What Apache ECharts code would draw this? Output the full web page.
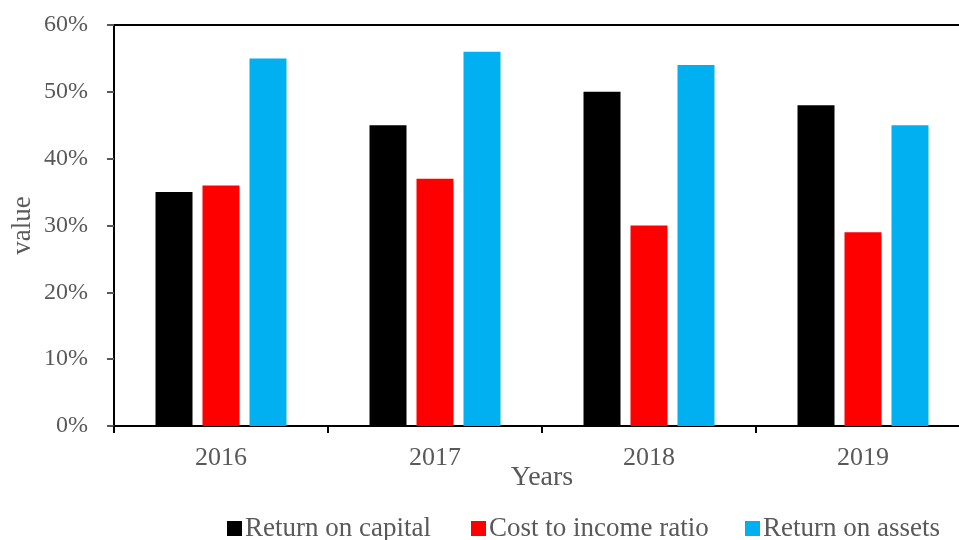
<!DOCTYPE html>
<html>
<head>
<meta charset="utf-8">
<script src="https://cdn.jsdelivr.net/npm/echarts@6/dist/echarts.min.js"></script>
<style>
  html, body { margin: 0; padding: 0; background: #fff; }
  #chart { width: 959px; height: 540px; }
</style>
</head>
<body>
<div id="chart"></div>
<script>
// Yearly ratios, in percent
const years = ['2016', '2017', '2018', '2019'];
const seriesNames = ['Return on capital', 'Cost to income ratio', 'Return on assets'];
const returnOnCapital = [35, 45, 50, 48];
const costToIncome = [36, 37, 30, 29];
const returnOnAssets = [55, 56, 54, 45];

const font = '"Liberation Serif", "Times New Roman", serif';
const labelGrey = '#595959';
const colors = ['#000000', '#ff0000', '#00b0f0'];
const legendLeft = [222, 466, 740];

// one legend entry per component so each can sit at its own spot
const legends = seriesNames.map((name, i) => ({
  left: legendLeft[i], top: 510,
  itemWidth: 15, itemHeight: 15, itemGap: 0,
  icon: 'rect',
  textStyle: { fontFamily: font, fontSize: 27, color: labelGrey, padding: [0, 0, 0, -2] },
  data: [name]
}));

const chart = echarts.init(document.getElementById('chart'));
chart.setOption({
  animation: false,
  textStyle: { fontFamily: font },
  grid: {
    left: 114, right: -11, top: 25, bottom: 114,
    outerBoundsMode: 'none',
    containLabel: false,
    show: true, borderColor: '#000', borderWidth: 2, backgroundColor: 'transparent'
  },
  legend: legends,
  xAxis: {
    type: 'category',
    data: years,
    name: 'Years',
    nameLocation: 'middle',
    nameGap: 38,
    nameMoveOverlap: false,
    nameTextStyle: { fontFamily: font, fontSize: 28, color: labelGrey },
    axisLine: { lineStyle: { color: '#000', width: 2 } },
    axisTick: { show: true, length: 7, lineStyle: { color: '#000', width: 2 } },
    axisLabel: { margin: 19, fontFamily: font, fontSize: 26, color: labelGrey },
    splitLine: { show: false }
  },
  yAxis: {
    type: 'value',
    min: 0, max: 60, interval: 10,
    name: 'value',
    nameLocation: 'middle',
    nameGap: 78,
    nameMoveOverlap: false,
    nameTextStyle: { fontFamily: font, fontSize: 27, color: labelGrey },
    axisLine: { show: true, lineStyle: { color: '#000', width: 2 } },
    axisTick: { show: true, length: 7, lineStyle: { color: '#595959', width: 2 } },
    axisLabel: { margin: 26, fontFamily: font, fontSize: 24, color: labelGrey, formatter: '{value}%' },
    splitLine: { show: false }
  },
  series: [
    { name: seriesNames[0], type: 'bar', data: returnOnCapital, barWidth: 37, barGap: '27%', itemStyle: { color: colors[0] } },
    { name: seriesNames[1], type: 'bar', data: costToIncome, barWidth: 37, barGap: '27%', itemStyle: { color: colors[1] } },
    { name: seriesNames[2], type: 'bar', data: returnOnAssets, barWidth: 37, barGap: '27%', itemStyle: { color: colors[2] } }
  ]
});
</script>
</body>
</html>
